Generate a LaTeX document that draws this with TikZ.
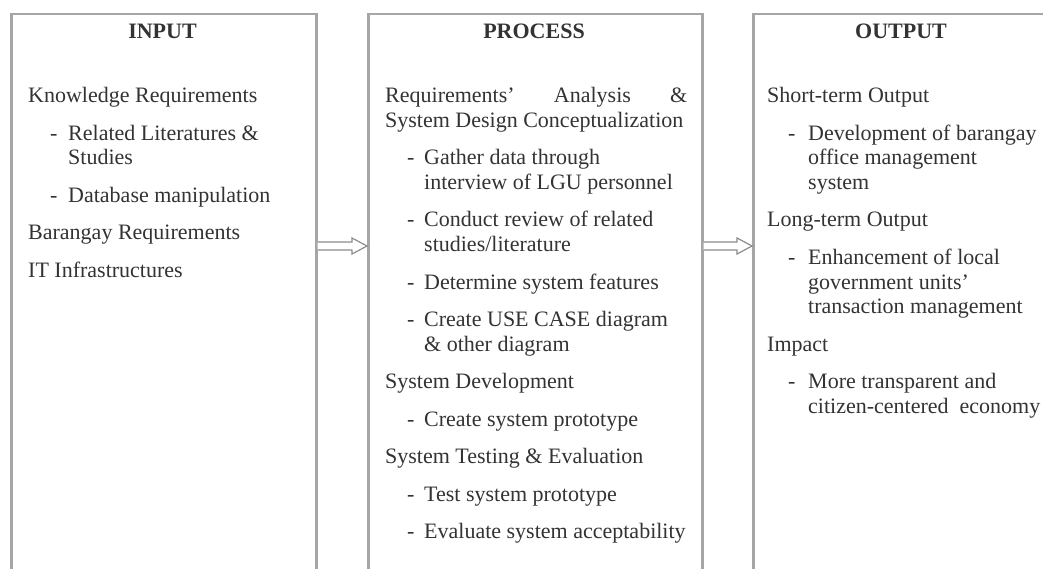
\documentclass[tikz,border=0pt]{standalone}
\usepackage{fontspec}
\setmainfont{Liberation Serif}
\usetikzlibrary{calc}
\definecolor{boxgray}{HTML}{A6A6A6}
\definecolor{txtgray}{HTML}{333333}
\definecolor{arrgray}{HTML}{8C8C8C}
\tikzset{
  box/.style={draw=boxgray, line width=2.5pt, inner sep=0pt, anchor=north west},
  txt/.style={anchor=base west, inner sep=0pt, text=txtgray, font=\fontsize{22}{24.5}\selectfont},
  head/.style={anchor=base, inner sep=0pt, text=txtgray, font=\fontsize{22}{24.5}\selectfont\bfseries},
  flow/.style={draw=arrgray, line width=1.2pt, fill=white, line join=miter}
}
\begin{document}
\begin{tikzpicture}[x=1pt,y=-1pt]
\useasboundingbox[fill=white] (0,0) rectangle (1043,569);
\clip (0,0) rectangle (1043,569);
% boxes
\node[box, minimum width=305pt, minimum height=600pt] (input) at (10,13) {};
\node[box, minimum width=334pt, minimum height=600pt] (process) at (367,13) {};
\node[box, minimum width=300pt, minimum height=600pt] (output) at (752,13) {};
% connectors (hollow block arrows)
\coordinate (ay) at (0,246);
\draw[flow] ($(input.east |- ay)+(0,-4)$) -- ($(process.west |- ay)+(-15,-4)$)
  -- ($(process.west |- ay)+(-15,-8)$) -- (process.west |- ay)
  -- ($(process.west |- ay)+(-15,8)$) -- ($(process.west |- ay)+(-15,4)$)
  -- ($(input.east |- ay)+(0,4)$);
\draw[flow] ($(process.east |- ay)+(0,-4)$) -- ($(output.west |- ay)+(-15,-4)$)
  -- ($(output.west |- ay)+(-15,-8)$) -- (output.west |- ay)
  -- ($(output.west |- ay)+(-15,8)$) -- ($(output.west |- ay)+(-15,4)$)
  -- ($(process.east |- ay)+(0,4)$);
% headings
\node[head] (hin) at (162.5,39) {INPUT};
\node[head] (hpr) at (534,39) {PROCESS};
\node[head] (hout) at (901,39) {OUTPUT};
% INPUT column
\node[txt] (i1) at (28,103) {Knowledge Requirements};
\node[txt] (i2d) at (50,140.5) {-};
\node[txt] (i2) at (68,140.5) {Related Literatures \&};
\node[txt] (i2b) at (68,165) {Studies};
\node[txt] (i3d) at (50,202.5) {-};
\node[txt] (i3) at (68,202.5) {Database manipulation};
\node[txt] (i4) at (28,240) {Barangay Requirements};
\node[txt] (i5) at (28,277.5) {IT Infrastructures};
% PROCESS column
\node[txt] (p1) at (385,103) {\hbox to 302pt{Requirements'\hfill Analysis\hfill \&}};
\node[txt] (p1b) at (385,127.5) {System Design Conceptualization};
\node[txt] (p2d) at (407,165) {-};
\node[txt] (p2) at (424,165) {Gather data through};
\node[txt] (p2b) at (424,189.5) {interview of LGU personnel};
\node[txt] (p3d) at (407,227) {-};
\node[txt] (p3) at (424,227) {Conduct review of related};
\node[txt] (p3b) at (424,251.5) {studies/literature};
\node[txt] (p4d) at (407,289) {-};
\node[txt] (p4) at (424,289) {Determine system features};
\node[txt] (p5d) at (407,326.5) {-};
\node[txt] (p5) at (424,326.5) {Create USE CASE diagram};
\node[txt] (p5b) at (424,351) {\& other diagram};
\node[txt] (p6) at (385,388.5) {System Development};
\node[txt] (p7d) at (407,426) {-};
\node[txt] (p7) at (424,426) {Create system prototype};
\node[txt] (p8) at (385,463.5) {System Testing \& Evaluation};
\node[txt] (p9d) at (407,501) {-};
\node[txt] (p9) at (424,501) {Test system prototype};
\node[txt] (p10d) at (407,538.5) {-};
\node[txt] (p10) at (424,538.5) {Evaluate system acceptability};
% OUTPUT column
\node[txt] (o1) at (767,103) {Short-term Output};
\node[txt] (o2d) at (788,140.5) {-};
\node[txt] (o2) at (808,140.5) {Development of barangay};
\node[txt] (o2b) at (808,165) {office management};
\node[txt] (o2c) at (808,189.5) {system};
\node[txt] (o3) at (767,227) {Long-term Output};
\node[txt] (o4d) at (788,264.5) {-};
\node[txt] (o4) at (808,264.5) {Enhancement of local};
\node[txt] (o4b) at (808,289) {government units'};
\node[txt] (o4c) at (808,313.5) {transaction management};
\node[txt] (o5) at (767,351) {Impact};
\node[txt] (o6d) at (788,388.5) {-};
\node[txt] (o6) at (808,388.5) {More transparent and};
\node[txt] (o6b) at (808,413) {citizen-centered\ \ economy};
\end{tikzpicture}
\end{document}
